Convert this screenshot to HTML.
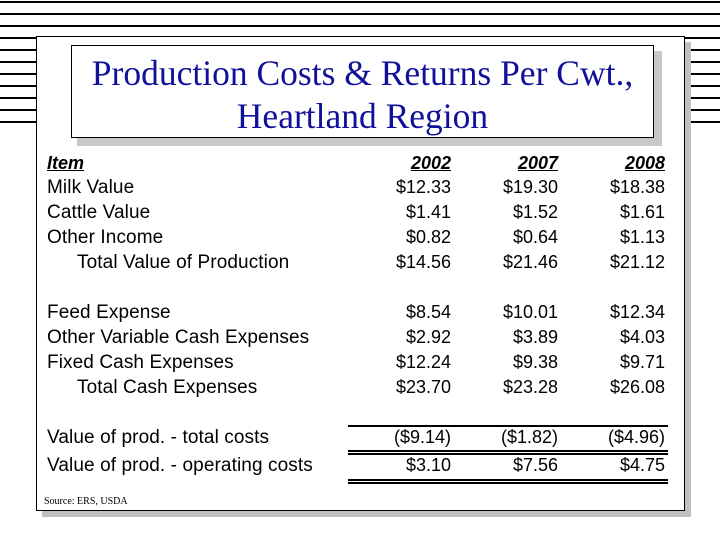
<!DOCTYPE html>
<html><head><meta charset="utf-8"><style>
body{margin:0;width:720px;height:540px;background:#fff;position:relative;overflow:hidden;font-family:"Liberation Sans",sans-serif}
.s{position:absolute;height:2px;background:#000}
.t{position:absolute;font-size:18px;line-height:18px;white-space:nowrap;color:#000}
.lb{font-size:19px;letter-spacing:0.1px}
.r{text-align:right;width:100px}
.h{font-weight:bold;font-style:italic;text-decoration:underline}
.ln{position:absolute;left:348px;width:320px;height:1.5px;background:#000}
</style></head><body>
<div>
<div class="s" style="left:0;width:720px;top:1px"></div>
<div class="s" style="left:0;width:720px;top:13px"></div>
<div class="s" style="left:0;width:720px;top:25px"></div>
</div>
<div id="side"></div>
<div style="position:absolute;left:42px;top:42px;width:649px;height:475px;background:#c0c0c0"></div>
<div style="position:absolute;left:36px;top:36px;width:647px;height:473px;background:#fff;border:1px solid #000"></div>
<div style="position:absolute;left:77px;top:51px;width:585px;height:95px;background:#c8c8c8"></div>
<div style="position:absolute;left:71px;top:45px;width:583px;height:93px;background:#fff;border:1px solid #000;font-family:'Liberation Serif',serif;color:#10109a;font-size:35.5px;line-height:43px;text-align:center;padding-top:6px;box-sizing:border-box;white-space:nowrap">Production Costs &amp; Returns Per Cwt.,<br>Heartland Region</div>
<div id="tbl"></div>
<div class="ln" style="top:425px"></div>
<div class="ln" style="top:450px"></div>
<div class="ln" style="top:453px"></div>
<div class="ln" style="top:479px"></div>
<div class="ln" style="top:482px"></div>
<div style="position:absolute;left:44px;top:496px;font-family:'Liberation Serif',serif;font-size:10px">Source: ERS, USDA</div>
<script>
const side=document.getElementById('side');
for(let i=0;i<8;i++){
 for(const x of [0,684]){
  const d=document.createElement('div');
  
  
  d.className='s';d.style.left=x+'px';d.style.width='36px';d.style.top=(37+i*12)+'px';side.appendChild(d);
 }
}
const labels=["Milk Value","Cattle Value","Other Income","Total Value of Production","","Feed Expense","Other Variable Cash Expenses","Fixed Cash Expenses","Total Cash Expenses","","Value of prod. - total costs","Value of prod. - operating costs"];
const indent=[0,0,0,1,0,0,0,0,1,0,0,0];
const years=["2002","2007","2008"];
const v2002=["$12.33","$1.41","$0.82","$14.56","","$8.54","$2.92","$12.24","$23.70","","($9.14)","$3.10"];
const v2007=["$19.30","$1.52","$0.64","$21.46","","$10.01","$3.89","$9.38","$23.28","","($1.82)","$7.56"];
const v2008=["$18.38","$1.61","$1.13","$21.12","","$12.34","$4.03","$9.71","$26.08","","($4.96)","$4.75"];
const tbl=document.getElementById('tbl');
const colR=[451,558,665];
function add(txt,x,y,cls,right,name){
 const d=document.createElement('div');
 
 
 d.className='t '+cls+(right?' r':'');
 d.style.left=(right?x-100:x)+'px';d.style.top=y+'px';d.textContent=txt;tbl.appendChild(d);
}
add("Item",47,154,'h',false,'header-item');
years.forEach((y,i)=>add(y,colR[i],154,'h',true,'header-'+y));
const rowY=[178,203,228,253,0,303,328,353,378,0,428,456];
labels.forEach((l,i)=>{
 if(!l)return;
 add(l,47+indent[i]*30,rowY[i]+1,'lb',false,'row-label');
 [v2002,v2007,v2008].forEach((arr,j)=>add(arr[i],colR[j],rowY[i],'',true,'cell-'+years[j]));
});
</script>
</body></html>
